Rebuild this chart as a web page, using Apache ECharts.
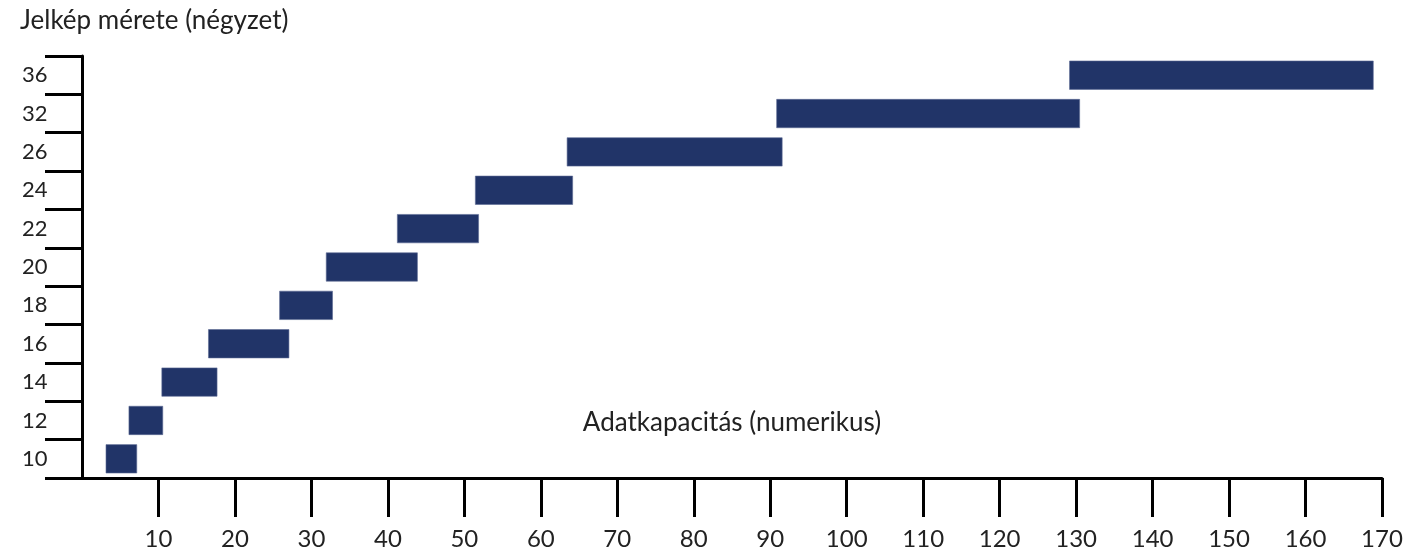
<!DOCTYPE html>
<html>
<head>
<meta charset="utf-8">
<script src="https://cdn.jsdelivr.net/npm/echarts@6/dist/echarts.min.js"></script>
<style>
html,body{margin:0;padding:0;background:#fff;}
#chart{width:1407px;height:554px;}
</style>
</head>
<body>
<div id="chart"></div>
<script>
// Symbol sizes (square Data Matrix), bottom to top
const symbolSizes = ['10', '12', '14', '16', '18', '20', '22', '24', '26', '32', '36'];
// Numeric capacity range for each size (start / end of bar)
const rangeStart = [3.1, 6.1, 10.4, 16.5, 25.8, 31.9, 41.2, 51.4, 63.4, 90.8, 129.1];
const rangeEnd   = [7.2, 10.6, 17.7, 27.1, 32.8, 43.9, 51.9, 64.2, 91.6, 130.5, 168.9];
// X axis ticks
const xTicks = [10, 20, 30, 40, 50, 60, 70, 80, 90, 100, 110, 120, 130, 140, 150, 160, 170];

const yTitle = 'Jelkép mérete (négyzet)';
const xTitle = 'Adatkapacitás (numerikus)';

const FONT = 'Lato, "Open Sans", sans-serif';
const chart = echarts.init(document.getElementById('chart'), null, {renderer: 'canvas'});

const rangeLength = rangeEnd.map((e, i) => +(e - rangeStart[i]).toFixed(2));

chart.setOption({
  animation: false,
  backgroundColor: '#ffffff',
  title: {
    text: yTitle,
    left: 15,
    top: 3,
    textStyle: {fontFamily: FONT, fontSize: 26, fontWeight: 'normal', color: '#222'}
  },
  grid: {left: 82, right: 25, top: 56, bottom: 76},
  xAxis: {
    type: 'value',
    min: 0,
    max: 170,
    interval: 10,
    name: xTitle,
    nameLocation: 'middle',
    nameGap: -68,
    nameTextStyle: {fontFamily: FONT, fontSize: 26, color: '#222'},
    splitLine: {show: false},
    axisLine: {show: true, lineStyle: {color: '#000', width: 3}},
    axisTick: {show: true, length: 39, lineStyle: {color: '#000', width: 3}, customValues: xTicks},
    axisLabel: {
      customValues: xTicks,
      margin: 49,
      fontFamily: FONT, fontSize: 24, color: '#222'
    }
  },
  yAxis: {
    type: 'category',
    data: symbolSizes,
    boundaryGap: true,
    axisLine: {show: true, lineStyle: {color: '#000', width: 3}},
    axisTick: {show: true, length: 37, lineStyle: {color: '#000', width: 3}},
    axisLabel: {
      align: 'left',
      margin: 60,
      fontFamily: FONT, fontSize: 22, color: '#222'
    },
    splitLine: {show: false}
  },
  series: [
    {
      name: 'start',
      type: 'bar',
      stack: 'range',
      data: rangeStart,
      itemStyle: {color: 'transparent'},
      barWidth: 29,
      silent: true
    },
    {
      name: 'capacity',
      type: 'bar',
      stack: 'range',
      data: rangeLength,
      barWidth: 29,
      itemStyle: {color: '#213468', borderColor: '#5c6a94', borderWidth: 0.6}
    }
  ]
});
</script>
</body>
</html>
